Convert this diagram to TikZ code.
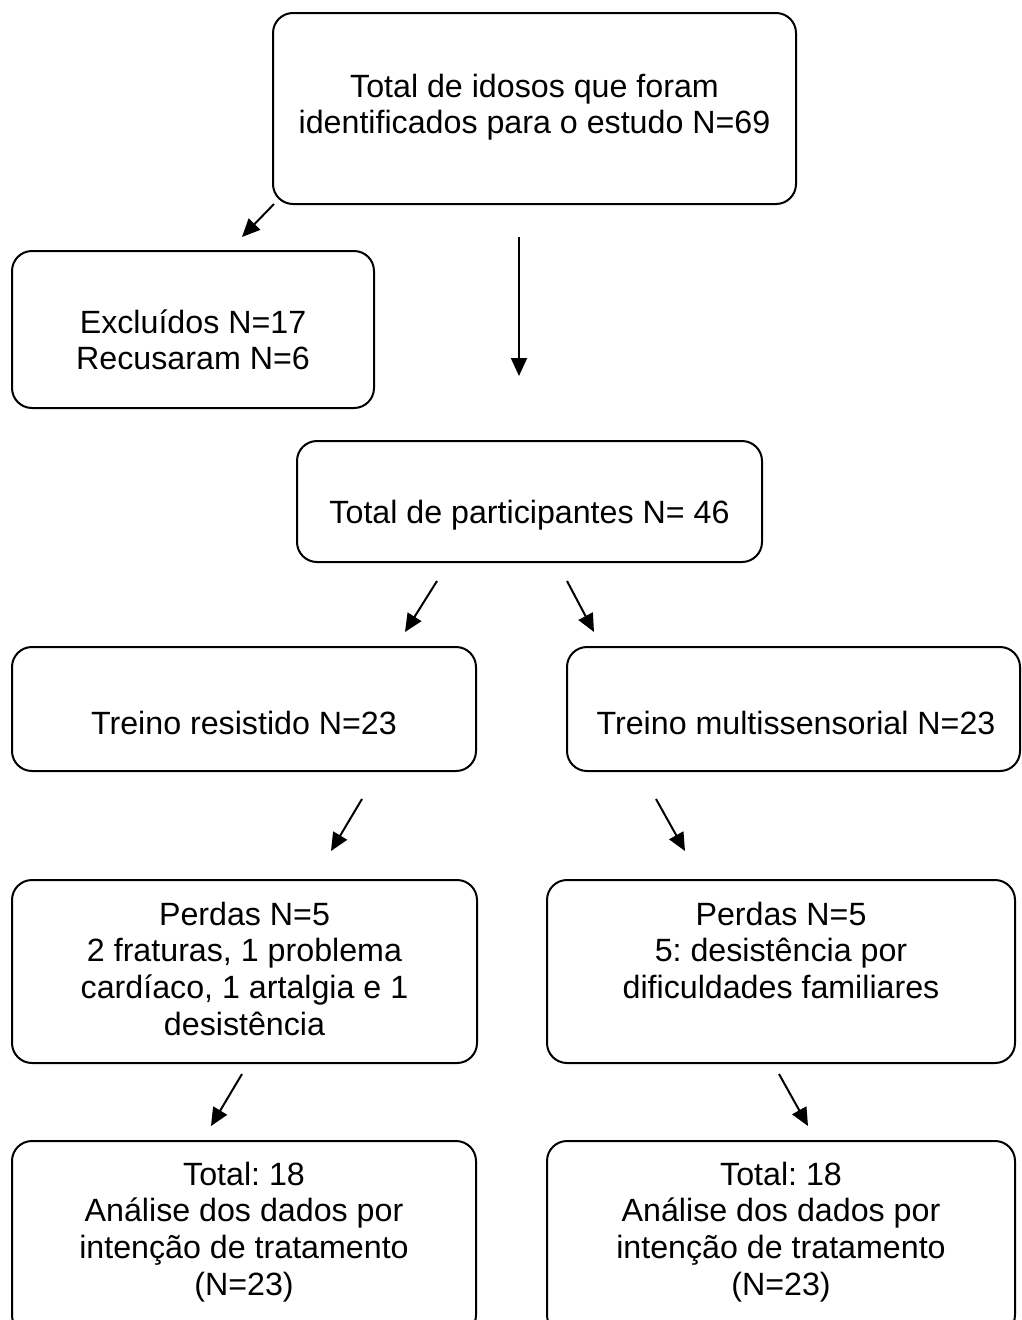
\documentclass[tikz,border=0pt]{standalone}
\usepackage{fontspec}
\setmainfont{Liberation Sans}
\frenchspacing
\usetikzlibrary{arrows.meta}
\tikzset{
  box/.style={draw=black, line width=2pt, rounded corners=20pt, inner sep=0pt},
  txt/.style={align=center, anchor=base, inner sep=0pt, font=\fontsize{32.2}{36.9}\selectfont},
  arr/.style={line width=2pt, -{Triangle[length=18pt,width=16pt]}}
}
\begin{document}
\begin{tikzpicture}[x=1pt,y=-1pt]
\clip (0,0) rectangle (1021,1320);
\fill[white] (0,0) rectangle (1021,1320);
% boxes
\node[box, minimum width=523pt, minimum height=191pt] (b1) at (534.5,108.5) {};
\node[box, minimum width=362pt, minimum height=157pt] (bexc) at (193,329.5) {};
\node[box, minimum width=465pt, minimum height=121pt] (bpart) at (529.5,501.5) {};
\node[box, minimum width=464pt, minimum height=124pt] (btr) at (244,709) {};
\node[box, minimum width=453pt, minimum height=124pt] (btm) at (793.5,709) {};
\node[box, minimum width=465pt, minimum height=183pt] (bpl) at (244.5,971.5) {};
\node[box, minimum width=468pt, minimum height=183pt] (bpr) at (781,971.5) {};
\node[box, minimum width=464pt, minimum height=194pt] (btl) at (244,1238) {};
\node[box, minimum width=468pt, minimum height=194pt] (btr2) at (781,1238) {};
% texts (anchor base = baseline of the last line)
\node[txt] (t1) at (534.5,133.9) {Total de idosos que foram\\identificados para o estudo N=69};
\node[txt] (texc) at (193,369.9) {Excluídos N=17\\Recusaram N=6};
\node[txt] (tpart) at (529.5,523) {Total de participantes N= 46};
\node[txt] (ttr) at (244,734) {Treino resistido N=23};
\node[txt] (ttm) at (796,734) {Treino multissensorial N=23};
\node[txt] (tpl) at (244.5,1035.7) {Perdas N=5\\2 fraturas, 1 problema\\cardíaco, 1 artalgia e 1\\desistência};
\node[txt] (tpr) at (781,998.8) {Perdas N=5\\5: desistência por\\dificuldades familiares};
\node[txt] (ttl) at (244,1295.7) {Total: 18\\Análise dos dados por\\intenção de tratamento\\(N=23)};
\node[txt] (ttr2) at (781,1295.7) {Total: 18\\Análise dos dados por\\intenção de tratamento\\(N=23)};
% arrow end points
\coordinate (a1s) at (274,204);  \coordinate (a1e) at (242,237);
\coordinate (a2s) at (519,237);  \coordinate (a2e) at (519,376);
\coordinate (a3s) at (437,581);  \coordinate (a3e) at (405,632);
\coordinate (a4s) at (567,581);  \coordinate (a4e) at (594,632);
\coordinate (a5s) at (362,799);  \coordinate (a5e) at (331,851);
\coordinate (a6s) at (656,799);  \coordinate (a6e) at (685,851);
\coordinate (a7s) at (242,1074); \coordinate (a7e) at (211,1126);
\coordinate (a8s) at (779,1074); \coordinate (a8e) at (808,1126);
\draw[arr] (a1s) -- (a1e);
\draw[arr] (a2s) -- (a2e);
\draw[arr] (a3s) -- (a3e);
\draw[arr] (a4s) -- (a4e);
\draw[arr] (a5s) -- (a5e);
\draw[arr] (a6s) -- (a6e);
\draw[arr] (a7s) -- (a7e);
\draw[arr] (a8s) -- (a8e);
\end{tikzpicture}
\end{document}
